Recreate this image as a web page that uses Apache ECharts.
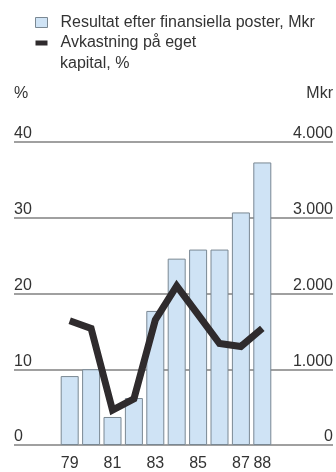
<!DOCTYPE html>
<html>
<head>
<meta charset="utf-8">
<script src="https://cdn.jsdelivr.net/npm/echarts@6/dist/echarts.min.js"></script>
<style>
  html, body { margin: 0; padding: 0; background: #ffffff; }
  #chart { width: 336px; height: 472px; }
</style>
</head>
<body>
<div id="chart"></div>
<script>
// Years (two-digit) on the category axis
const years = ['79', '80', '81', '82', '83', '84', '85', '86', '87', '88'];
// Resultat efter finansiella poster, Mkr
const resultat = [910, 1000, 370, 620, 1770, 2460, 2580, 2580, 3070, 3730];
// Avkastning på eget kapital, %
const avkastning = [16.4, 15.4, 4.6, 6.1, 16.5, 21.0, 17.2, 13.4, 13.0, 15.4];
// Tick values on the two value axes
const pctTicks = [0, 10, 20, 30, 40];
const mkrTicks = [0, 1000, 2000, 3000, 4000];

const nameBar = 'Resultat efter finansiella poster, Mkr';
const nameLine = 'Avkastning på eget';
const nameLine2 = 'kapital, %';

const FONT = "'Liberation Sans', Arial, Helvetica, sans-serif";
const TEXT = '#333333';
const BAR_FILL = '#cfe3f5';
const BAR_EDGE = '#7a8893';
const LINE_COL = '#2f2b2d';
const GRID_COL = '#808080';

const fmtMkr = v => String(v).replace(/\B(?=(\d{3})+(?!\d))/g, '.');

const chart = echarts.init(document.getElementById('chart'), null, { renderer: 'canvas' });

chart.setOption({
  backgroundColor: '#ffffff',
  animation: false,
  textStyle: { fontFamily: FONT, color: TEXT },
  legend: {
    orient: 'vertical',
    left: 35,
    top: 14.5,
    padding: 0,
    itemGap: 4,
    itemWidth: 20,
    itemHeight: 10,
    selectedMode: false,
    textStyle: { fontFamily: FONT, fontSize: 16, color: TEXT },
    data: [
      {
        name: nameBar,
        icon: 'path://M0,0h12v10h-12z M20,0',
        itemStyle: { color: BAR_FILL, borderColor: BAR_EDGE, borderWidth: 1 }
      },
      {
        name: nameLine,
        icon: 'path://M0,0 M0,3h12v5h-12z M20,10',
        itemStyle: { color: LINE_COL, borderWidth: 0 }
      }
    ]
  },
  graphic: [
    {
      type: 'text',
      left: 60,
      top: 56,
      style: { text: nameLine2, font: '16px ' + FONT, fill: TEXT }
    }
  ],
  grid: [
    { left: 14, right: 3, top: 142, bottom: 27 },
    { left: 59, right: 63, top: 142, bottom: 27 }
  ],
  xAxis: [
    { gridIndex: 0, type: 'value', min: 0, max: 1, show: false },
    {
      gridIndex: 1,
      type: 'category',
      data: years,
      axisLine: { show: false },
      axisTick: { show: false },
      axisLabel: {
        interval: (i) => i % 2 === 0 || i === years.length - 1,
        margin: 11,
        fontSize: 16,
        color: TEXT,
        fontFamily: FONT
      }
    }
  ],
  yAxis: [
    {
      gridIndex: 0,
      type: 'value',
      position: 'left',
      min: pctTicks[0],
      max: pctTicks[pctTicks.length - 1],
      interval: pctTicks[1] - pctTicks[0],
      name: '%',
      nameLocation: 'end',
      nameGap: 48,
      nameTextStyle: { align: 'left', verticalAlign: 'middle', fontSize: 16, color: TEXT, fontFamily: FONT },
      axisLine: { show: false },
      axisTick: { show: false },
      axisLabel: {
        inside: true,
        margin: 0,
        verticalAlign: 'bottom',
        fontSize: 16,
        color: TEXT,
        fontFamily: FONT
      },
      splitLine: { show: true, lineStyle: { color: GRID_COL, width: 1.5 } }
    },
    {
      gridIndex: 0,
      type: 'value',
      position: 'right',
      min: mkrTicks[0],
      max: mkrTicks[mkrTicks.length - 1],
      interval: mkrTicks[1] - mkrTicks[0],
      name: 'Mkr',
      nameLocation: 'end',
      nameGap: 48,
      nameTextStyle: { align: 'right', verticalAlign: 'middle', fontSize: 16, color: TEXT, fontFamily: FONT },
      axisLine: { show: false },
      axisTick: { show: false },
      axisLabel: {
        inside: true,
        margin: 0,
        verticalAlign: 'bottom',
        fontSize: 16,
        color: TEXT,
        fontFamily: FONT,
        formatter: fmtMkr
      },
      splitLine: { show: false }
    },
    { gridIndex: 1, type: 'value', min: 0, max: 40, show: false },
    { gridIndex: 1, type: 'value', min: 0, max: 4000, show: false }
  ],
  series: [
    {
      name: nameBar,
      type: 'bar',
      xAxisIndex: 1,
      yAxisIndex: 3,
      data: resultat,
      barWidth: 18,
      itemStyle: { color: BAR_FILL, borderColor: BAR_EDGE, borderWidth: 1 },
      z: 2
    },
    {
      name: nameLine,
      type: 'line',
      xAxisIndex: 1,
      yAxisIndex: 2,
      data: avkastning,
      color: LINE_COL,
      showSymbol: false,
      symbol: 'none',
      lineStyle: { color: LINE_COL, width: 7, cap: 'butt', join: 'miter' },
      z: 3
    }
  ]
});
</script>
</body>
</html>
